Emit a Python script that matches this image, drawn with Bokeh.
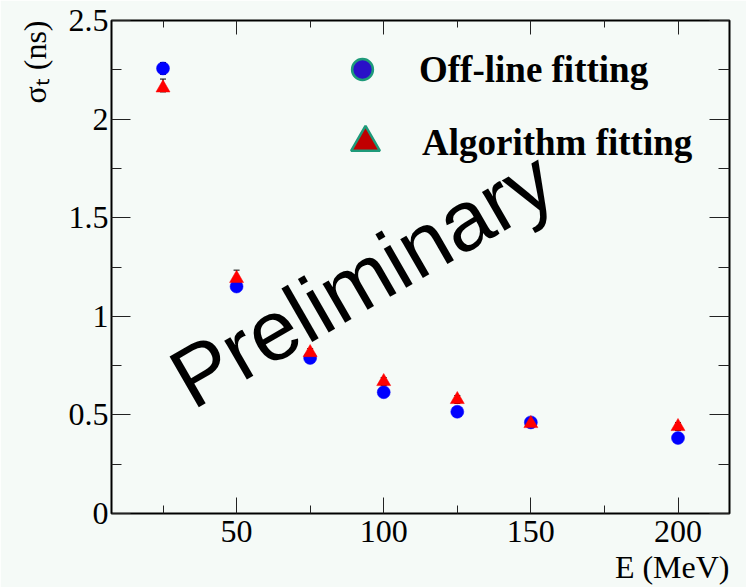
from bokeh.plotting import figure
from bokeh.models import (Range1d, FixedTicker, LinearAxis, NumeralTickFormatter, Label, Title,
                          Legend, LegendItem, Whisker, TeeHead, ColumnDataSource)
from bokeh.embed import file_html
from bokeh.resources import INLINE

# ---- data ----
energy = [25, 50, 75, 100, 125, 150, 200]
sigma_offline = [2.257, 1.151, 0.789, 0.615, 0.516, 0.462, 0.383]
err_offline = [0.03, 0.02, 0.02, 0.02, 0.02, 0.02, 0.02]
sigma_algorithm = [2.158, 1.192, 0.816, 0.669, 0.578, 0.456, 0.441]
err_algorithm_hi = [0.045, 0.042, 0.02, 0.02, 0.02, 0.02, 0.02]
err_algorithm_lo = [0.02, 0.02, 0.02, 0.02, 0.02, 0.02, 0.02]
x_major = [50, 100, 150, 200]
x_minor = [25, 75, 125, 175]
y_major = [0, 0.5, 1, 1.5, 2, 2.5]
y_minor = [0.25, 0.75, 1.25, 1.75, 2.25]
label_offline = "Off-line fitting"
label_algorithm = "Algorithm fitting"
x_title = "E (MeV)"
y_title = "σₜ (ns)"

BG = "#f5faf7"
SERIF = "Liberation Serif"

p = figure(width=746, height=587, output_backend="svg", toolbar_location=None,
           x_range=Range1d(7.5, 217.5), y_range=Range1d(0, 2.5),
           min_border_left=111, min_border_right=17, min_border_top=20, min_border_bottom=74,
           background_fill_color=BG, border_fill_color=BG, x_axis_type=None, y_axis_type=None)
p.outline_line_color = "black"
p.outline_line_width = 2
p.xgrid.visible = False
p.ygrid.visible = False

def make_axis(ticks, minor, tin, min_in, show_labels, fmt=None):
    ax = LinearAxis(ticker=FixedTicker(ticks=ticks, minor_ticks=minor))
    ax.axis_line_color = None
    ax.major_tick_in = tin
    ax.major_tick_out = 0
    ax.minor_tick_in = min_in
    ax.minor_tick_out = 0
    ax.major_tick_line_color = "#222222"
    ax.minor_tick_line_color = "#222222"
    if fmt is not None:
        ax.formatter = fmt
    if show_labels:
        ax.major_label_text_font = SERIF
        ax.major_label_text_font_size = "32px"
        ax.major_label_text_color = "black"
        ax.major_label_standoff = 3
    else:
        ax.major_label_text_font_size = "0px"
        ax.major_label_standoff = 0
    return ax

xax = make_axis(x_major, x_minor, 16, 8, True)
xax.major_label_standoff = 7
p.add_layout(xax, "below")
p.add_layout(make_axis(x_major, x_minor, 14, 7, False), "above")
p.add_layout(make_axis(y_major, y_minor, 19, 10, True, NumeralTickFormatter(format="0.[0]")), "left")
p.add_layout(make_axis(y_major, y_minor, 20, 11, False), "right")

# ---- axis titles (ROOT style: aligned to the end of the axis) ----
p.add_layout(Title(text=x_title, align="right", text_font=SERIF, text_font_size="32px",
                   text_font_style="normal", text_color="black", standoff=4, offset=0), "below")
p.add_layout(Title(text=y_title, align="right", text_font=SERIF, text_font_size="32px",
                   text_font_style="normal", text_color="black", standoff=25, offset=0), "left")

# ---- error bars ----
src_off = ColumnDataSource(dict(x=energy, y=sigma_offline,
                                lo=[v - e for v, e in zip(sigma_offline, err_offline)],
                                hi=[v + e for v, e in zip(sigma_offline, err_offline)]))
src_alg = ColumnDataSource(dict(x=energy, y=sigma_algorithm,
                                lo=[v - e for v, e in zip(sigma_algorithm, err_algorithm_lo)],
                                hi=[v + e for v, e in zip(sigma_algorithm, err_algorithm_hi)]))
for s in (src_off, src_alg):
    p.add_layout(Whisker(base="x", lower="lo", upper="hi", source=s, line_color="black", line_width=1,
                         upper_head=TeeHead(size=6, line_color="black", line_width=1),
                         lower_head=TeeHead(size=6, line_color="black", line_width=1)))

# ---- markers ----
p.scatter(x="x", y="y", source=src_off, marker="circle", size=13,
          fill_color="#0000ff", line_color="#0000ff", line_width=0.5)
p.scatter(x="x", y="y", source=src_alg, marker="triangle", size=14,
          fill_color="#ff0000", line_color="#ff0000", line_width=0.5)

# ---- watermark ----
p.add_layout(Label(x=30.1, y=0.65, text="Preliminary", angle=30, angle_units="deg",
                   text_font="Liberation Sans", text_font_size="85px", text_color="black",
                   text_align="left", text_baseline="alphabetic"))

# ---- legends (key glyphs only, no data points) ----
nan = float("nan")
r_l1 = p.scatter(x=[nan], y=[nan], marker="circle", size=20, fill_color="#2a10c8",
                 line_color="#1e9a7a", line_width=2.5)
r_l2 = p.scatter(x=[nan], y=[nan], marker="triangle", size=28, fill_color="#c00000",
                 line_color="#1e9a7a", line_width=2.5)

def make_legend(label, rend, loc, gsize, standoff):
    return Legend(items=[LegendItem(label=label, renderers=[rend])], location=loc,
                  glyph_width=gsize, glyph_height=gsize, label_height=gsize, label_width=10,
                  label_standoff=standoff, padding=0, margin=0, spacing=0,
                  border_line_color=None, background_fill_alpha=0,
                  label_text_font=SERIF, label_text_font_style="bold",
                  label_text_font_size="37px", label_text_color="black")

p.add_layout(make_legend(label_offline, r_l1, (225, 418), 52, 31))
p.add_layout(make_legend(label_algorithm, r_l2, (218, 335), 72, 21))

open("out.html", "w").write(file_html(p, INLINE))
